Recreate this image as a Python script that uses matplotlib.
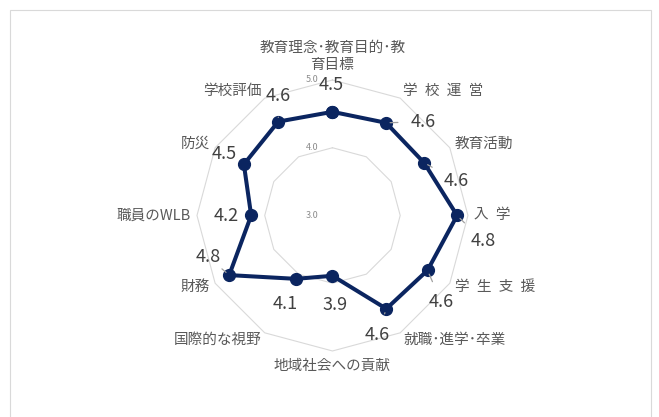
import numpy as np
import matplotlib
matplotlib.use("Agg")
import matplotlib.pyplot as plt
from matplotlib.patches import Rectangle

plt.rcParams['font.family'] = ['Noto Sans CJK JP', 'DejaVu Sans']

# -----------------------------
# Data
# -----------------------------
categories = [
    "教育理念･教育目的･教\n育目標", "学\u2002校\u2002運\u2002営", "教育活動", "入\u2002学",
    "学\u2002生\u2002支\u2002援", "就職･進学･卒業", "地域社会への貢献", "国際的な視野",
    "財務", "職員のWLB", "防災", "学校評価",
]
scores = [4.53, 4.58, 4.56, 4.84, 4.62, 4.59, 3.89, 4.08, 4.76, 4.20, 4.51, 4.60]
r_ticks = [3.0, 4.0, 5.0]

# data label offsets in pixels (dx, dy) and whether a leader line is drawn
label_offsets = [(-1, 27), (37, 1), (32, -18), (26, -26), (14, -32), (-9, -26),
                 (3, -29), (-11, -25), (-21, 18), (-25, -1), (-20, 10), (0, 26)]
leaders = [False, True, True, True, True, True,
           False, False, True, False, False, True]

navy = "#0b2560"
grid_col = "#d9d9d9"
txt_col = "#595959"
PX = 72 / 100  # pixels -> points

fig = plt.figure(figsize=(6.59, 4.17), dpi=100)
fig.patches.append(Rectangle((10 / 659, -0.05), 641 / 659, 1.05 - 10 / 417,
                             transform=fig.transFigure, fill=False,
                             edgecolor=grid_col, lw=0.8))

ax = fig.add_axes([0.2989, 0.1583, 0.4112, 0.6499], projection='polar')
ax.set_theta_zero_location('N')
ax.set_theta_direction(-1)
ax.set_ylim(3, 5)
ax.grid(False)
ax.set_xticks([])
ax.set_yticks([])
ax.spines['polar'].set_visible(False)
ax.patch.set_alpha(0)

n = len(categories)
theta = np.linspace(0, 2 * np.pi, n, endpoint=False)
theta_c = np.append(theta, theta[0])

# polygon gridlines
for rv in r_ticks[1:]:
    ax.plot(theta_c, [rv] * (n + 1), color=grid_col, lw=0.8, clip_on=False, zorder=1)

# radial tick labels
for rv in r_ticks:
    ax.annotate(f"{rv:.1f}", xy=(0, rv), xytext=(-14 * PX, 0), textcoords='offset points',
                ha='right', va='center', fontsize=6.5, color="#8c8c8c")

# data line
vals_c = np.append(scores, scores[0])
ax.plot(theta_c, vals_c, color=navy, lw=2.9, marker='o', markersize=8.5,
        clip_on=False, zorder=3)

# category labels
for t, name in zip(theta, categories):
    s, c = np.sin(t), np.cos(t)
    ha = 'left' if s > 0.01 else ('right' if s < -0.01 else 'center')
    va = 'bottom' if c > 0.9 else ('top' if c < -0.9 else 'center')
    ax.annotate(name, xy=(t, 5), xytext=(6 * s * PX, 8 * c * PX), textcoords='offset points',
                ha=ha, va=va, fontsize=10.5, color=txt_col, linespacing=1.25,
                annotation_clip=False)

# data labels
for t, v, (dx, dy), ld in zip(theta, scores, label_offsets, leaders):
    arrow = dict(arrowstyle='-', color="#a0a0a0", lw=0.9, shrinkA=7, shrinkB=3) if ld else None
    ax.annotate(f"{v:.1f}", xy=(t, v), xytext=(dx * PX, dy * PX), textcoords='offset points',
                ha='center', va='center', fontsize=13, color="#404040",
                arrowprops=arrow, annotation_clip=False, zorder=4)

fig.savefig("out.png", dpi=100, facecolor='white')
